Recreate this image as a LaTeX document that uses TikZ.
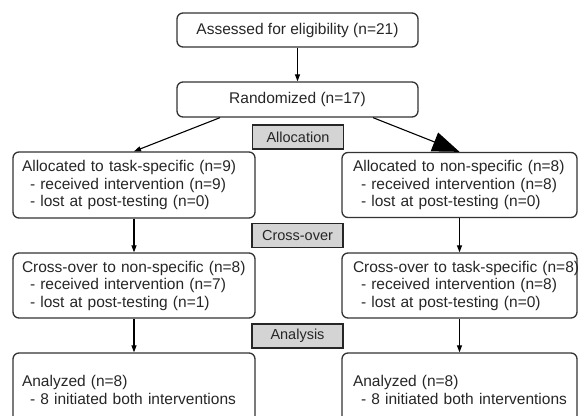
\documentclass[tikz,border=0pt]{standalone}
\usepackage{fontspec}
\setmainfont{Liberation Sans}
\usetikzlibrary{arrows.meta,calc}
\tikzset{%
    box/.style={draw=black!80, line width=1.3pt, rounded corners=6pt, inner sep=0pt, font=\fontsize{15.5pt}{17.5pt}\selectfont},
    arm/.style={box, align=left, inner xsep=9pt, text width=#1},
    lab/.style={draw=black!85, fill=black!17, line width=1.4pt, inner sep=0pt, minimum width=91pt, minimum height=24pt, font=\fontsize{14.5pt}{16pt}\selectfont},
    pra/.style={line width=1.1pt, -{Triangle[length=7pt, width=5pt]}},
    big/.style={line width=1.1pt, -{Triangle[length=27pt, width=20pt]}}
}
\begin{document}
\begin{tikzpicture}[x=1pt, y=-1pt, text=black!85]
    \useasboundingbox (0,0) rectangle (578,415);
    \node[box, minimum width=241pt, minimum height=34pt] (elig) at (297.5,30) {Assessed for eligibility (n=21)};
    \node[box, minimum width=241pt, minimum height=35pt] (rand) at (297.5,99.5) {Randomized (n=17)};
    \node[lab] (alloc) at (298,137) {Allocation};
    \node[arm=224pt, minimum height=66pt] (task) at (134,185) {Allocated to task-specific (n=9)\\\hspace*{8pt}- received intervention (n=9)\\\hspace*{8pt}- lost at post-testing (n=0)};
    \node[arm=217pt, minimum height=65pt] (non) at (459.5,185) {\hspace*{2pt}Allocated to non-specific (n=8)\\\hspace*{10pt}- received intervention (n=8)\\\hspace*{10pt}- lost at post-testing (n=0)};
    \node[lab] (cross) at (297.5,235.5) {Cross-over};
    \node[arm=224pt, minimum height=65pt] (taskx) at (134,285.5) {Cross-over to non-specific (n=8)\\\hspace*{8pt}- received intervention (n=7)\\\hspace*{8pt}- lost at post-testing (n=1)};
    \node[arm=217pt, minimum height=65pt] (nonx) at (459.5,285.5) {\mbox{\hspace*{2pt}Cross-over to task-specific (n=8)}\\\hspace*{10pt}- received intervention (n=8)\\\hspace*{10pt}- lost at post-testing (n=0)};
    \node[lab] (anal) at (297.5,336) {Analysis};
    \node[arm=224pt, minimum height=74pt] (taska) at (134,390) {Analyzed (n=8)\\\hspace*{8pt}- 8 initiated both interventions};
    \node[arm=217pt, minimum height=74pt] (nona) at (459.5,390) {\hspace*{2pt}Analyzed (n=8)\\\hspace*{10pt}- 8 initiated both interventions};
    \draw[pra] (elig) -- (rand);
    \draw[pra] ($(rand.south)+(-77.5,0)$) -- (task.north);
    \draw[big] ($(rand.south)+(75.5,0)$) -- (non.north);
    \draw[pra] (task) -- (taskx);
    \draw[pra] (non) -- (nonx);
    \draw[pra] (taskx) -- (taska);
    \draw[pra] (nonx) -- (nona);
\end{tikzpicture}
\end{document}
